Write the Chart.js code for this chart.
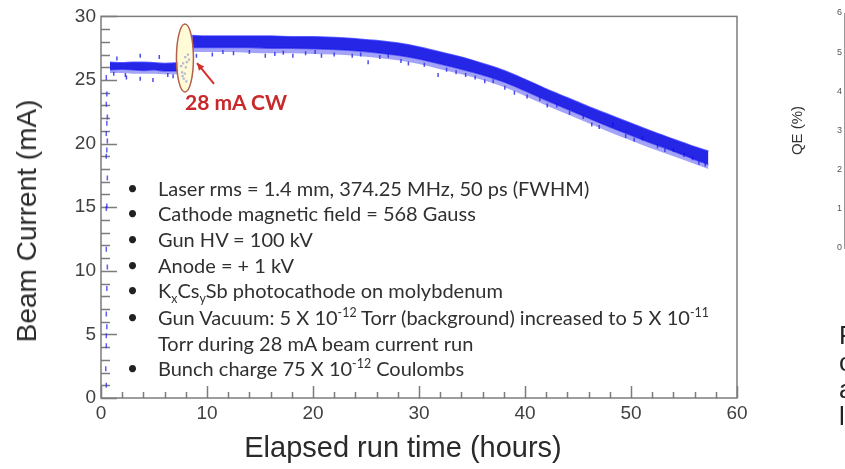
<!DOCTYPE html>
<html><head><meta charset="utf-8">
<script src="https://cdn.jsdelivr.net/npm/chart.js@4.4.0/dist/chart.umd.min.js"></script>
<style>
html,body{margin:0;padding:0;background:#fff;overflow:hidden;width:845px;height:469px}
#wrap{position:relative;width:845px;height:469px;overflow:hidden;background:#fff}
canvas{position:absolute}
.t{position:absolute;white-space:nowrap;color:#303030;font-family:Lato,'Open Sans',sans-serif;font-size:20px;line-height:24px}
.b{position:absolute;color:#222;font-family:Lato,sans-serif;font-size:19px;line-height:24px}
.ax{position:absolute;white-space:nowrap;color:#2a2a2a;font-family:'Liberation Sans',Arial,sans-serif}
sup,sub{font-size:0.62em;line-height:0}
</style></head><body>
<div id="wrap">
<canvas id="main" width="845" height="469" style="left:0;top:0"></canvas>
<canvas id="qe" width="300" height="300" style="left:780px;top:0"></canvas>

<div class="ax" id="ytitle" style="font-size:28px;left:27px;top:221px;transform:translate(-50%,-50%) rotate(-90deg)">Beam Current (mA)</div>
<div class="ax" id="xtitle" style="font-size:29px;left:403px;top:447px;transform:translate(-50%,-50%)">Elapsed run time (hours)</div>

<div class="t" style="left:185px;top:90px;color:#c8282a;font-weight:700;font-size:21px">28 mA CW</div>

<div class="b" style="left:127px;top:176px">•</div><div class="t" style="left:158px;top:176px">Laser rms = 1.4 mm, 374.25 MHz, 50 ps (FWHM)</div>
<div class="b" style="left:127px;top:201px">•</div><div class="t" style="left:158px;top:201px">Cathode magnetic field = 568 Gauss</div>
<div class="b" style="left:127px;top:227px">•</div><div class="t" style="left:158px;top:227px">Gun HV = 100 kV</div>
<div class="b" style="left:127px;top:253px">•</div><div class="t" style="left:158px;top:253px">Anode = + 1 kV</div>
<div class="b" style="left:127px;top:278px">•</div><div class="t" style="left:158px;top:278px">K<sub>x</sub>Cs<sub>y</sub>Sb photocathode on molybdenum</div>
<div class="b" style="left:127px;top:305px">•</div><div class="t" style="left:158px;top:305px">Gun Vacuum: 5 X 10<sup>-12</sup> Torr (background) increased to 5 X 10<sup>-11</sup></div>
<div class="t" style="left:158px;top:331px">Torr during 28 mA beam current run</div>
<div class="b" style="left:127px;top:356px">•</div><div class="t" style="left:158px;top:356px">Bunch charge 75 X 10<sup>-12</sup> Coulombs</div>

<div class="ax" style="left:839px;top:322px;font-size:26px;line-height:27px;color:#222">F<br>c<br>a<br>l</div>
</div>
<script>
// ---- data ----
// 26 mA plateau band (hours, upper / lower edge of dense band, lower edge of sparse scatter, mA)
const hoursA  = [0.85, 2, 3, 4, 5, 6, 7.3];
const upperA  = [26.4, 26.35, 26.4, 26.4, 26.35, 26.3, 26.35];
const lowerA  = [25.8, 25.85, 25.8, 25.75, 25.8, 25.7, 25.7];
const fringeA = [25.55, 25.55, 25.5, 25.5, 25.5, 25.45, 25.45];
// 28 mA CW run band
const hoursB  = [8.6, 10, 12, 14, 16, 18, 20, 22, 24, 26, 28, 30, 32, 34, 36, 38, 40, 42, 44, 46, 48, 50, 52, 54, 56, 57.3];
const upperB  = [28.5, 28.45, 28.45, 28.45, 28.45, 28.4, 28.4, 28.35, 28.25, 28.1, 27.9, 27.6, 27.2, 26.8, 26.3, 25.75, 25.05, 24.3, 23.6, 22.9, 22.25, 21.6, 20.95, 20.35, 19.75, 19.4];
const lowerB  = [27.55, 27.55, 27.55, 27.55, 27.5, 27.5, 27.45, 27.4, 27.3, 27.15, 26.95, 26.65, 26.25, 25.85, 25.4, 24.85, 24.15, 23.4, 22.7, 22.0, 21.3, 20.65, 20.0, 19.4, 18.75, 18.35];
const fringeB = [27.2, 27.2, 27.2, 27.15, 27.1, 27.1, 27.05, 27.0, 26.9, 26.75, 26.55, 26.25, 25.85, 25.45, 25.0, 24.45, 23.75, 23.0, 22.3, 21.6, 20.9, 20.25, 19.6, 19.0, 18.4, 18.0];
// ramp-up points at start
const rampHours   = [0.5, 0.55, 0.5, 0.6, 0.55, 0.5, 0.6, 0.55, 0.5, 0.6, 0.55, 0.5, 0.5, 0.6, 0.55, 0.5, 0.55, 0.5, 0.5, 0.45, 0.5];
const rampCurrent = [25.2, 23.9, 23.1, 22.1, 21.6, 20.8, 20.2, 19.5, 19.0, 17.3, 15.1, 14.9, 11.7, 10.3, 8.6, 6.6, 5.6, 4.9, 4.1, 2.3, 1.0];
// transition points (inside the ellipse)
const transHours   = [7.55, 7.65, 7.75, 7.8, 7.9, 7.95, 8.0, 8.05, 8.1, 8.2, 8.3, 7.7];
const transCurrent = [26.1, 25.6, 26.3, 25.1, 25.5, 26.8, 26.0, 24.9, 26.4, 27.0, 26.6, 25.3];
// scattered points around / below the bands
const scatHours   = [1.2, 1.5, 2.3, 2.4, 3.7, 3.7, 4.9, 5.5, 6.3, 6.8,
                     9.0, 10.5, 11.5, 12.5, 14.0, 15.5, 16.4, 17.2, 18.1, 19.3, 20.2, 20.8, 22.0, 23.7, 24.5, 25.2, 26.3, 27.1, 28.3, 29.0,
                     30.5, 31.8, 32.6, 33.5, 34.4, 35.3, 36.2, 37.0, 38.1, 39.0, 40.2, 41.4, 42.1, 43.0, 44.2, 45.5, 46.3, 47.0, 48.3, 49.5,
                     50.3, 51.1, 52.5, 53.2, 54.0, 55.0, 55.8, 56.4, 57.0];
const scatCurrent = [25.5, 26.7, 25.4, 25.2, 25.1, 26.9, 25.0, 26.8, 25.4, 25.3,
                     26.9, 27.0, 27.2, 27.1, 27.2, 26.9, 27.05, 27.15, 26.9, 27.1, 27.2, 26.9, 27.0, 26.9, 27.0, 26.4, 26.8, 26.9, 26.5, 26.3,
                     26.2, 25.4, 25.8, 25.6, 25.4, 25.2, 24.9, 24.9, 24.4, 24.0, 23.7, 23.5, 23.0, 23.0, 22.4, 22.1, 21.5, 21.3, 21.5, 20.6,
                     20.3, 20.4, 19.8, 19.5, 19.5, 19.1, 18.85, 18.5, 18.35];
// QE panel (partially visible at right edge)
const qeTicks = [0, 1, 2, 3, 4, 5, 6];

const pts = (xs, ys) => xs.map((v, i) => ({x: v, y: ys[i]}));
const BAND = 'rgba(14,14,228,0.9)';
const FRINGE = 'rgba(50,50,238,0.45)';

function bandSet(xs, up, lo, fr) {
  return [
    {type:'line', data: pts(xs, up), borderColor:'rgba(40,40,255,0.7)', borderWidth:1.5, pointRadius:0,
     fill:'+1', backgroundColor: BAND, cubicInterpolationMode:'monotone'},
    {type:'line', data: pts(xs, lo), borderColor:'rgba(40,40,250,0.6)', borderWidth:1.5, pointRadius:0,
     fill:'+1', backgroundColor: FRINGE, cubicInterpolationMode:'monotone'},
    {type:'line', data: pts(xs, fr), borderColor:'rgba(0,0,0,0)', borderWidth:0, pointRadius:0,
     fill:false, cubicInterpolationMode:'monotone'}
  ];
}

const ellipse = {cx: 7.92, cy: 26.72, rx: 8.5, ry: 34};
const arrow = {x0: 10.66, y0: 24.69, x1: 9.06, y1: 26.33};

const decoPlugin = {
  id: 'deco',
  beforeDatasetsDraw(chart) {
    const {ctx, chartArea: a, scales: {x, y}} = chart;
    ctx.save();
    ctx.strokeStyle = '#7c7c7c'; ctx.lineWidth = 1.5;
    ctx.strokeRect(a.left, a.top, a.right - a.left, a.bottom - a.top);
    ctx.beginPath();
    for (let v = 0; v <= 30; v += 1) {
      const p = Math.round(y.getPixelForValue(v)) + 0.5;
      const L = v % 5 === 0 ? 16 : 9;
      ctx.moveTo(a.left, p); ctx.lineTo(a.left + L, p);
    }
    for (let v = 0; v <= 60; v += 2) {
      const p = Math.round(x.getPixelForValue(v)) + 0.5;
      const L = v % 10 === 0 ? 12 : 6;
      ctx.moveTo(p, a.bottom); ctx.lineTo(p, a.bottom - L);
    }
    ctx.stroke();
    ctx.restore();
  },
  afterDatasetsDraw(chart) {
    const {ctx, scales: {x, y}} = chart;
    ctx.save();
    const cx = x.getPixelForValue(ellipse.cx), cy = y.getPixelForValue(ellipse.cy);
    ctx.beginPath();
    ctx.ellipse(cx, cy, ellipse.rx, ellipse.ry, 0, 0, Math.PI * 2);
    ctx.fillStyle = 'rgba(255,250,200,0.72)';
    ctx.fill();
    ctx.strokeStyle = '#b3604c'; ctx.lineWidth = 1.5; ctx.stroke();
    const x0 = x.getPixelForValue(arrow.x0), y0 = y.getPixelForValue(arrow.y0);
    const x1 = x.getPixelForValue(arrow.x1), y1 = y.getPixelForValue(arrow.y1);
    ctx.strokeStyle = '#d3302c'; ctx.fillStyle = '#d3302c'; ctx.lineWidth = 2;
    ctx.beginPath(); ctx.moveTo(x0, y0); ctx.lineTo(x1, y1); ctx.stroke();
    const ang = Math.atan2(y1 - y0, x1 - x0), h = 8;
    ctx.beginPath();
    ctx.moveTo(x1, y1);
    ctx.lineTo(x1 - h * Math.cos(ang - 0.45), y1 - h * Math.sin(ang - 0.45));
    ctx.lineTo(x1 - h * Math.cos(ang + 0.45), y1 - h * Math.sin(ang + 0.45));
    ctx.closePath(); ctx.fill();
    ctx.restore();
  }
};

new Chart(document.getElementById('main'), {
  type: 'scatter',
  data: {
    datasets: [
      ...bandSet(hoursA, upperA, lowerA, fringeA),
      ...bandSet(hoursB, upperB, lowerB, fringeB),
      {data: pts(rampHours, rampCurrent), pointStyle:'line', rotation:90, radius:2.5, borderWidth:1.5,
       borderColor:'rgba(40,40,240,0.75)', backgroundColor:'rgba(40,40,240,0.75)'},
      {data: pts(transHours, transCurrent), pointStyle:'rect', radius:1.6, borderWidth:0,
       backgroundColor: 'rgba(0,0,235,0.95)'},
      {data: pts(scatHours, scatCurrent), pointStyle:'line', rotation:90, radius:2, borderWidth:1.5,
       borderColor: 'rgba(30,30,235,0.8)', backgroundColor: 'rgba(30,30,235,0.8)'}
    ]
  },
  options: {
    responsive: false, animation: false, events: [],
    layout: {padding: {top: 14, right: 108, bottom: 0, left: 0}},
    plugins: {legend: {display: false}, tooltip: {enabled: false}},
    scales: {
      x: {type:'linear', min:0, max:60, afterFit: s => { s.height = 71; },
          grid:{display:false, drawTicks:false}, border:{display:false},
          ticks:{stepSize:10, padding:4, color:'#404040', font:{family:'Liberation Sans', size:19}}},
      y: {type:'linear', min:0, max:30, afterFit: s => { s.width = 101; },
          grid:{display:false, drawTicks:false}, border:{display:false},
          ticks:{stepSize:5, padding:5, color:'#404040', font:{family:'Liberation Sans', size:19}}}
    }
  },
  plugins: [decoPlugin]
});

new Chart(document.getElementById('qe'), {
  type: 'scatter',
  data: {datasets: [{data: []}]},
  options: {
    responsive: false, animation: false, events: [],
    layout: {padding: {top: 13, right: 0, bottom: 0, left: 0}},
    plugins: {legend: {display: false}, tooltip: {enabled: false}},
    scales: {
      x: {display: false, min: 0, max: 1, afterFit: s => { s.height = 52; }},
      y: {min: 0, max: 6, afterFit: s => { s.width = 64; },
          afterBuildTicks: s => { s.ticks = qeTicks.map(v => ({value: v})); },
          grid: {display: false, drawTicks: false}, border: {display: true, color: '#9a9a9a', width: 1},
          ticks: {padding: 2, color: '#555', font: {family: 'Liberation Sans', size: 9}},
          title: {display: true, text: 'QE (%)', color: '#333', padding: {top: 9, bottom: 0},
                  font: {family: 'Liberation Sans', size: 15}}}
    }
  }
});
</script>
</body></html>
